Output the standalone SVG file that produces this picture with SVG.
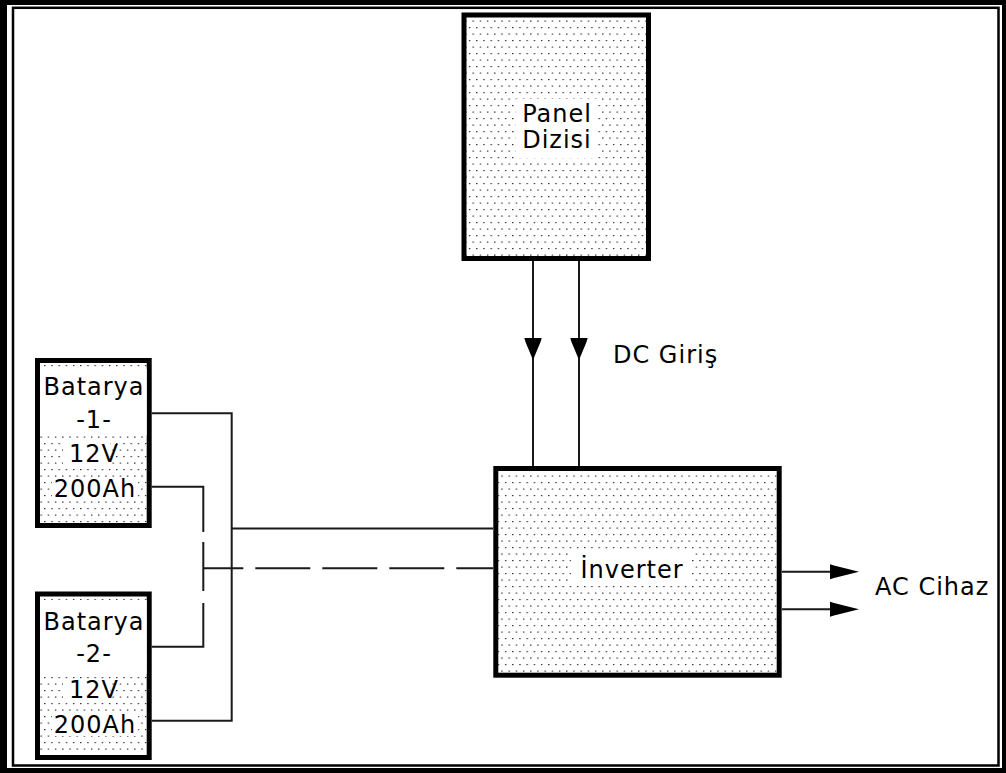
<svg xmlns="http://www.w3.org/2000/svg" width="1006" height="773" viewBox="0 0 1006 773">
<style>
  .box{stroke:#000;stroke-width:5;fill:url(#dots)}
  .wire{stroke:#1a1a1a;stroke-width:2;fill:none}
  .lbl{font-family:"DejaVu Sans","Liberation Sans",sans-serif;font-size:24px;fill:#000;letter-spacing:1px}
  .mid{text-anchor:middle}
  .bg{fill:#fff}
  .head{fill:#000}
</style>
<defs>
  <pattern id="dots" patternUnits="userSpaceOnUse" width="7.2" height="13">
    <rect width="7.2" height="13" fill="#fff"/>
    <rect x="1" y="1" width="1.2" height="1.2" fill="#111"/>
    <rect x="4.6" y="7.5" width="1.2" height="1.2" fill="#111"/>
  </pattern>
</defs>

<g id="frame">
  <rect x="0" y="0" width="1006" height="773" fill="#000"/>
  <rect x="7" y="5" width="995" height="763" fill="#fff"/>
  <rect x="13" y="7.8" width="985.5" height="757.7" fill="none" stroke="#000" stroke-width="2.5"/>
</g>

<g id="connectors">
  <path class="wire" d="M533 260V466M579 260V466"/>
  <polygon class="head" points="524.3,338 541.7,338 540.5,342 533,360 525.5,342"/>
  <polygon class="head" points="570.3,338 587.7,338 586.5,342 579,360 571.5,342"/>
  <path class="wire" d="M782 571.7H832M782 609.3H832"/>
  <polygon class="head" points="830,564.2 834,565.5 859,571.7 834,578 830,579.2"/>
  <polygon class="head" points="830,601.8 834,603 859,609.3 834,615.5 830,616.8"/>
  <path class="wire" d="M151.7 413.3H231.7V720.7H151.7"/>
  <path class="wire" d="M231.7 528.5H493"/>
  <path class="wire" d="M151.7 486.7H203.3V532M203.3 542V591M203.3 603V646.7H151.7"/>
  <path class="wire" d="M203.3 568.3H493" stroke-dasharray="55 12" stroke-dashoffset="15"/>
</g>

<g id="panel">
  <rect class="box" x="464" y="15" width="184.5" height="243.5"/>
  <rect class="bg" x="516" y="99" width="81" height="59"/>
  <text class="lbl mid" x="557" y="121.7">Panel</text>
  <text class="lbl mid" x="557" y="148.3">Dizisi</text>
</g>

<g id="dc-label">
  <text class="lbl" x="613" y="363">DC Giriş</text>
</g>

<g id="inverter">
  <rect class="box" x="495.8" y="468.5" width="283.4" height="206.7"/>
  <rect class="bg" x="571" y="550" width="121" height="32"/>
  <text class="lbl mid" x="632" y="578">İnverter</text>
</g>

<g id="ac-label">
  <text class="lbl" x="875" y="595">AC Cihaz</text>
</g>

<g id="battery1">
  <rect class="box" x="37.5" y="360.5" width="111.7" height="165"/>
  <rect class="bg" x="40" y="369" width="106.7" height="66"/>
  <rect class="bg" x="63" y="443" width="47" height="21"/>
  <rect class="bg" x="52" y="478" width="86" height="22"/>
  <text class="lbl mid" x="94" y="395">Batarya</text>
  <text class="lbl mid" x="94" y="428">-1-</text>
  <text class="lbl mid" x="94" y="462">12V</text>
  <text class="lbl mid" x="95" y="497">200Ah</text>
</g>

<g id="battery2">
  <rect class="box" x="37.5" y="594" width="111.7" height="163.5"/>
  <rect class="bg" x="40" y="600" width="106.7" height="74"/>
  <rect class="bg" x="63" y="679" width="47" height="21"/>
  <rect class="bg" x="52" y="714" width="86" height="22"/>
  <text class="lbl mid" x="94" y="630">Batarya</text>
  <text class="lbl mid" x="94" y="661.7">-2-</text>
  <text class="lbl mid" x="94" y="698">12V</text>
  <text class="lbl mid" x="95" y="733">200Ah</text>
</g>
</svg>
